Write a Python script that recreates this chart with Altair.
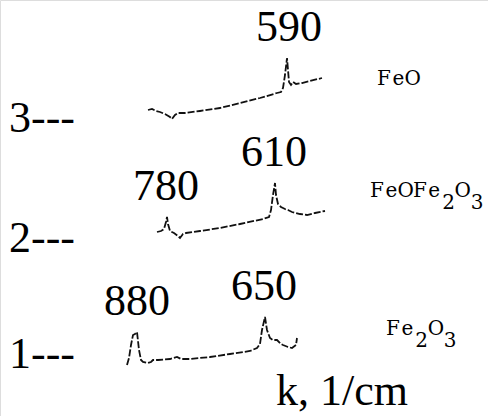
import altair as alt
import pandas as pd

# Stacked IR spectra of iron oxides; x is position along the k axis (arbitrary units),
# intensity is measured from each spectrum's own baseline.
spectra = ["1", "2", "3"]
compounds = ["Fe2O3", "FeOFe2O3", "FeO"]
stack_offset = [46, 166, 286]
number_level = [48, 164, 284]
compound_level = [81, 219, 331]
compound_start = [393, 377, 384]

x1 = [127, 129, 131, 133, 135, 137, 139, 141, 143, 148, 151, 153, 158, 170, 177, 181, 190,
      210, 230, 250, 257, 260, 262, 265, 267, 270, 273, 277, 281, 283, 288, 292, 296, 297]
i1 = [5, 12, 25, 35, 36, 38, 20, 10, 8, 7, 8, 10, 10, 11, 13, 11, 11,
      13, 16, 19, 22, 26, 40, 53, 40, 32, 30, 30, 26, 25, 23, 22, 25, 32]

x2 = [157, 161, 164, 166, 167, 168, 170, 174, 178, 180, 183, 186, 200, 220, 240, 263, 269,
      271, 273, 275, 276, 278, 281, 285, 288, 292, 296, 300, 307, 315, 325]
i2 = [18, 19, 21, 28, 33, 26, 19, 17, 14, 12, 16, 17, 19, 22, 26, 31, 33,
      40, 55, 67, 55, 46, 43, 41, 40, 38, 37, 36, 35, 37, 39]

x3 = [148, 152, 156, 160, 165, 170, 172, 175, 178, 185, 200, 220, 240, 260, 277, 281, 283,
      285, 287, 288, 289, 291, 293, 296, 302, 310, 322]
i3 = [20, 21, 19, 18, 16, 13, 11, 15, 17, 17, 19, 22, 27, 32, 37, 38, 42,
      55, 72, 60, 48, 45, 48, 46, 47, 49, 52]

# Peak wavenumbers (1/cm) marked on each spectrum
peak_labels = ["880", "650", "780", "610", "590"]
peak_spectrum = ["1", "1", "2", "2", "3"]
peak_x = [137, 264, 166, 274, 289]
peak_i = [38, 53, 33, 67, 72]

rows = []
for name, off, xs, ys in zip(spectra, stack_offset, [x1, x2, x3], [i1, i2, i3]):
    for k, (x, v) in enumerate(zip(xs, ys)):
        rows.append({"spectrum": name, "order": k, "x": x, "y": off + v})
lines_df = pd.DataFrame(rows)

peaks_df = pd.DataFrame({
    "label": peak_labels,
    "x": peak_x,
    "y": [stack_offset[spectra.index(s)] + v for s, v in zip(peak_spectrum, peak_i)],
})

num_df = pd.DataFrame({"label": [s + "---" for s in spectra], "y": number_level})

# compound names set character by character on a fixed pitch, digits as subscripts
chars = []
for name, lvl, x0 in zip(compounds, compound_level, compound_start):
    for k, ch in enumerate(name):
        chars.append({"ch": ch, "x": x0 + k * 14.3, "y": lvl, "sub": ch.isdigit()})
chars_df = pd.DataFrame(chars)

xs = alt.Scale(domain=[0, 488], nice=False, zero=False)
ys = alt.Scale(domain=[0, 416], nice=False, zero=False)

lines = alt.Chart(lines_df).mark_line(
    color="#111111", strokeWidth=1.8, strokeDash=[7, 2]
).encode(
    x=alt.X("x:Q", scale=xs, axis=None),
    y=alt.Y("y:Q", scale=ys, axis=None),
    detail="spectrum:N",
    order="order:Q",
)

peaks = alt.Chart(peaks_df).mark_text(
    font="Liberation Serif", fontSize=44, color="black", baseline="alphabetic", dy=-17
).encode(x="x:Q", y="y:Q", text="label:N")

nums = alt.Chart(num_df).mark_text(
    font="Liberation Serif", fontSize=44, color="black", align="left",
    baseline="alphabetic"
).encode(x=alt.value(9), y="y:Q", text="label:N")

normal = alt.Chart(chars_df).transform_filter("!datum.sub").mark_text(
    font="DejaVu Serif", fontSize=20, color="black", baseline="alphabetic"
).encode(x="x:Q", y="y:Q", text="ch:N")

subs = alt.Chart(chars_df).transform_filter("datum.sub").mark_text(
    font="DejaVu Serif", fontSize=20, color="black", baseline="alphabetic", dy=12
).encode(x="x:Q", y="y:Q", text="ch:N")

xlabel = alt.Chart(pd.DataFrame({"t": ["k, 1/cm"]})).mark_text(
    font="Liberation Serif", fontSize=44, color="black", align="left", baseline="alphabetic"
).encode(x=alt.value(276), y=alt.value(405), text="t:N")

chart = alt.layer(lines, peaks, nums, normal, subs, xlabel).properties(
    width=488, height=416,
    autosize=alt.AutoSizeParams(type="fit", contains="padding"),
    padding=0,
).configure_view(stroke=None).configure(background="white")

chart.save("out.html", embed_options={"renderer": "svg", "actions": False})
